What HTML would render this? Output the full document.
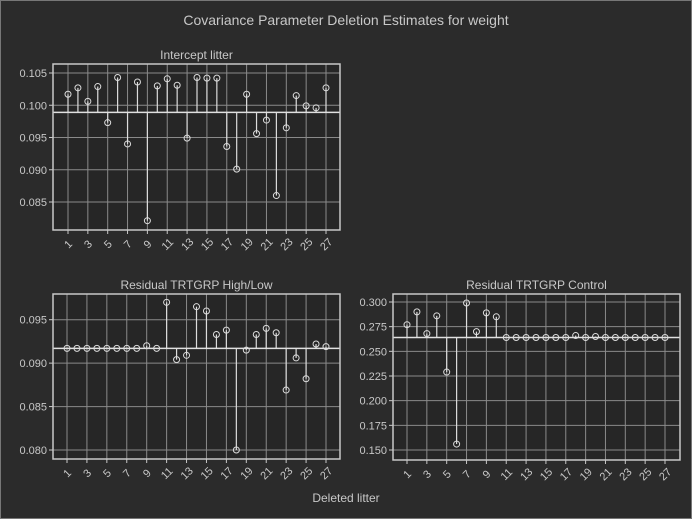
<!DOCTYPE html>
<html><head><meta charset="utf-8"><style>
body{margin:0;background:#2b2b2b;}
svg{display:block;font-family:"Liberation Sans",sans-serif;}
</style></head><body>
<svg id="s" width="692" height="519" xmlns="http://www.w3.org/2000/svg">
<rect x="0.5" y="0.5" width="691" height="518" fill="#2b2b2b" stroke="#777"/>
<text x="346" y="25" fill="#c8c8c8" font-size="14" text-anchor="middle">Covariance Parameter Deletion Estimates for weight</text>
<text x="346" y="502" fill="#c8c8c8" font-size="12" text-anchor="middle">Deleted litter</text>
</svg>
<script>
const S=document.getElementById('s');const NS='http://www.w3.org/2000/svg';
function el(t,a,txt){const e=document.createElementNS(NS,t);for(const k in a)e.setAttribute(k,a[k]);if(txt!==undefined)e.textContent=txt;S.appendChild(e);return e;}
function panel(p){
 const {x0,x1,y0,y1,title,ticks,yv,ypx,base,data,xa,xb,dec}=p;
 el('rect',{x:x0,y:y0,width:x1-x0,height:y1-y0,fill:'#262626'});
 el('text',{x:(x0+x1)/2,y:y0-5,fill:'#c8c8c8','font-size':12,'text-anchor':'middle'},title);
 const Y=v=>ypx[0]+(v-yv[0])/(yv[1]-yv[0])*(ypx[1]-ypx[0]);
 const X=i=>xa+(i-1)*(xb-xa)/26;
 ticks.forEach(t=>{const y=Y(t);el('line',{x1:x0,x2:x1,y1:y,y2:y,stroke:'#8a8a8a','stroke-width':1});
  el('line',{x1:x0-4,x2:x0,y1:y,y2:y,stroke:'#c8c8c8'});
  el('text',{x:x0-6,y:y+4,fill:'#c8c8c8','font-size':11,'text-anchor':'end'},t.toFixed(dec));});
 for(let i=1;i<=27;i+=2){const x=X(i);el('line',{x1:x,x2:x,y1:y0,y2:y1,stroke:'#8a8a8a'});
  el('line',{x1:x,x2:x,y1:y1,y2:y1+4,stroke:'#c8c8c8'});
  el('text',{x:x,y:y1+18,fill:'#c8c8c8','font-size':11,'text-anchor':'middle',transform:`rotate(-45 ${x} ${y1+14})`},i);}
 const by=Y(base);
 data.forEach((v,k)=>{const x=X(k+1),y=Y(v);el('line',{x1:x,x2:x,y1:by,y2:y,stroke:'#dcdcdc','stroke-width':1.2});});
 el('line',{x1:x0,x2:x1,y1:by,y2:by,stroke:'#e0e0e0','stroke-width':1.5});
 data.forEach((v,k)=>{el('circle',{cx:X(k+1),cy:Y(v),r:3,fill:'none',stroke:'#dcdcdc','stroke-width':1});});
 el('rect',{x:x0,y:y0,width:x1-x0,height:y1-y0,fill:'none',stroke:'#c8c8c8','stroke-width':1.5});
}
panel({x0:53,x1:340,y0:64,y1:230,title:'Intercept litter',ticks:[0.085,0.09,0.095,0.1,0.105],yv:[0.105,0.085],ypx:[73,202],base:0.0989,dec:3,xa:68,xb:326,
data:[0.1017,0.1027,0.1006,0.1029,0.0973,0.1043,0.0940,0.1036,0.0821,0.1030,0.1041,0.1031,0.0949,0.1043,0.1042,0.1042,0.0936,0.0901,0.1017,0.0956,0.0977,0.0860,0.0965,0.1015,0.0999,0.0996,0.1027]});
panel({x0:53,x1:340,y0:294,y1:459,title:'Residual TRTGRP High/Low',ticks:[0.08,0.085,0.09,0.095],yv:[0.095,0.080],ypx:[319.7,450],base:0.0917,dec:3,xa:67,xb:326,
data:[0.0917,0.0917,0.0917,0.0917,0.0917,0.0917,0.0917,0.0917,0.0920,0.0917,0.0970,0.0904,0.0909,0.0965,0.0960,0.0933,0.0938,0.0800,0.0915,0.0933,0.0940,0.0935,0.0869,0.0906,0.0882,0.0922,0.0919]});
panel({x0:393,x1:680,y0:294,y1:460,title:'Residual TRTGRP Control',ticks:[0.15,0.175,0.2,0.225,0.25,0.275,0.3],yv:[0.3,0.15],ypx:[302,450],base:0.264,dec:3,xa:407,xb:665,
data:[0.277,0.290,0.268,0.286,0.229,0.156,0.299,0.270,0.289,0.285,0.264,0.264,0.264,0.264,0.264,0.264,0.264,0.266,0.264,0.265,0.264,0.264,0.264,0.264,0.264,0.264,0.264]});
</script>
</body></html>
